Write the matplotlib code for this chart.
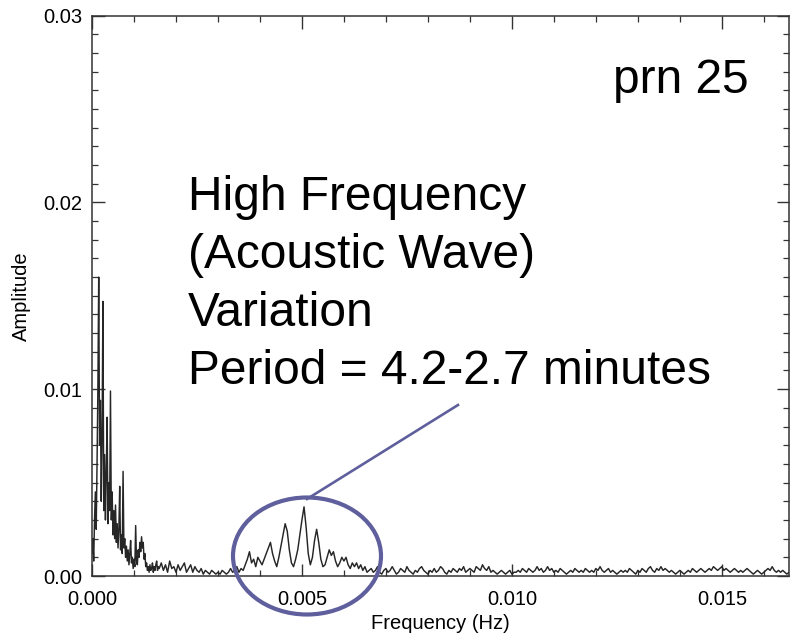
import numpy as np
import matplotlib
matplotlib.use("Agg")
import matplotlib.pyplot as plt
from matplotlib.patches import Ellipse
from matplotlib.lines import Line2D
from matplotlib.ticker import MultipleLocator, FormatStrFormatter

plt.rcParams['font.family'] = ['Liberation Sans', 'DejaVu Sans']

# ---- data (amplitudes in units of 1e-4) ----
low_step = 0.00002   # Hz, 0 .. 0.00158
amp_low = [12, 20, 8, 30, 45, 25, 60, 100, 160, 70,
           94, 40, 74, 147, 35, 65, 30, 55, 85, 28,
           50, 35, 99, 30, 45, 22, 35, 20, 38, 18,
           28, 15, 25, 48, 14, 22, 12, 56, 15, 20,
           10, 16, 8, 14, 6, 12, 19, 7, 10, 4,
           9, 5, 27, 8, 6, 14, 10, 18, 13, 21,
           15, 18, 9, 12, 5, 7, 3, 5, 2, 6,
           3, 4, 7, 2, 5, 3, 6, 8, 3, 5]

high_start = 0.0016
high_step = 0.00005  # Hz, 0.0016 .. 0.0166
amp_high = [4, 7, 3, 6, 2, 8, 4, 5, 2, 6,
            3, 5, 7, 2, 4, 6, 2, 5, 3, 2,
            4, 1, 3, 2, 1, 3, 2, 1, 2, 1,
            3, 2, 1, 2, 4, 2, 3, 5, 2, 4,
            3, 6, 9, 13, 7, 9, 5, 10, 8, 6,
            9, 12, 15, 18, 12, 8, 5, 10, 16, 22,
            28, 24, 14, 7, 5, 9, 14, 22, 30, 37,
            26, 12, 6, 10, 19, 25, 18, 9, 5, 6,
            10, 14, 11, 13, 8, 5, 7, 10, 8, 10,
            6, 4, 7, 5, 7, 4, 6, 3, 5, 2,
            3,
            4, 2, 3, 5, 2, 1, 3, 4, 2, 3, 5, 3, 1, 2, 4, 3, 2, 5, 3, 2,
            1, 3, 2, 4, 5, 3, 2, 1, 3, 2, 4, 2, 3, 5, 4, 2, 1, 3, 2, 4,
            3, 2, 4, 3, 5, 2, 3, 4, 3, 2, 5, 4, 3, 6, 4, 3, 5, 2, 3, 2,
            1, 2, 3, 2, 1, 2, 3, 1, 2, 2, 3, 2, 4, 3, 2, 4, 3, 2, 3, 5,
            3, 4, 2, 3, 5, 3, 4, 2, 3, 2, 4, 3, 2, 1, 2, 3, 2, 4, 3, 2,
            3, 2, 4, 3, 2, 3, 2, 4, 3, 5, 3, 2, 3, 4, 2, 3, 2, 1, 2, 3,
            2, 3, 2, 4, 3, 2, 1, 3, 2, 4, 3, 2, 4, 5, 3, 2, 4, 3, 5, 3,
            4, 3, 2, 3, 2, 1, 2, 3, 2, 1, 2, 3, 2, 4, 3, 2, 3, 4, 3, 2,
            3, 4, 3, 5, 4, 3, 4, 5, 3, 4, 3, 2, 3, 4, 3, 2, 3, 2, 3, 4,
            3, 2, 1, 2, 3, 2, 1, 2, 3, 4, 3, 5, 3, 2, 3, 2, 3, 2, 1, 2]

x_ticks = [0.000, 0.005, 0.010, 0.015]
y_ticks = [0.00, 0.01, 0.02, 0.03]
title_text = "prn 25"
note_lines = ["High Frequency", "(Acoustic Wave)", "Variation",
              "Period = 4.2-2.7 minutes"]

freq = np.concatenate([np.arange(len(amp_low)) * low_step,
                       high_start + np.arange(len(amp_high)) * high_step])
amp = np.concatenate([amp_low, amp_high]) * 1e-4

W, H = 790, 633
fig = plt.figure(figsize=(W / 100, H / 100), dpi=100)
ax = fig.add_axes([92 / W, 1 - 576 / H, (789 - 92) / W, (576 - 15.5) / H])

ax.plot(freq, amp, color='#262626', lw=1.05)
ax.set_xlim(0, 0.0166)
ax.set_ylim(0, 0.03)
ax.set_xticks(x_ticks)
ax.set_yticks(y_ticks)
ax.xaxis.set_major_formatter(FormatStrFormatter('%.3f'))
ax.yaxis.set_major_formatter(FormatStrFormatter('%.2f'))
ax.xaxis.set_minor_locator(MultipleLocator(0.001))
ax.yaxis.set_minor_locator(MultipleLocator(0.001))
ax.tick_params(which='both', direction='in', top=True, right=True,
               colors='#333333', labelcolor='black', labelsize=14.5)
ax.tick_params(which='major', length=9, width=1.0)
ax.tick_params(which='minor', length=4.5, width=0.9)
ax.tick_params(axis='x', which='major', pad=10)
ax.tick_params(axis='y', which='major', pad=7)
for s in ax.spines.values():
    s.set_color('#333333')
    s.set_linewidth(1.1)
ax.set_xlabel("Frequency (Hz)", fontsize=14.5, labelpad=4)
ax.set_ylabel("Amplitude", fontsize=14.5, labelpad=9)

def px(x, y):
    return (x / W, 1 - y / H)

fig.text(*px(613, 93), title_text, fontsize=34.5, va='baseline', ha='left')
for i, line in enumerate(note_lines):
    fig.text(*px(188, 210 + 58 * i), line, fontsize=34.5, va='baseline', ha='left')

ell_color = '#5f5f9d'
ell = Ellipse(px(307, 556), 148 / W, 117 / H, transform=fig.transFigure,
              fill=False, edgecolor=ell_color, lw=3.0, zorder=10)
fig.patches.append(ell)
(x0, y0), (x1, y1) = px(307, 499), px(458, 405)
fig.lines.append(Line2D([x0, x1], [y0, y1], transform=fig.transFigure,
                        color=ell_color, lw=1.9, zorder=10))

fig.savefig("out.png", dpi=100)
